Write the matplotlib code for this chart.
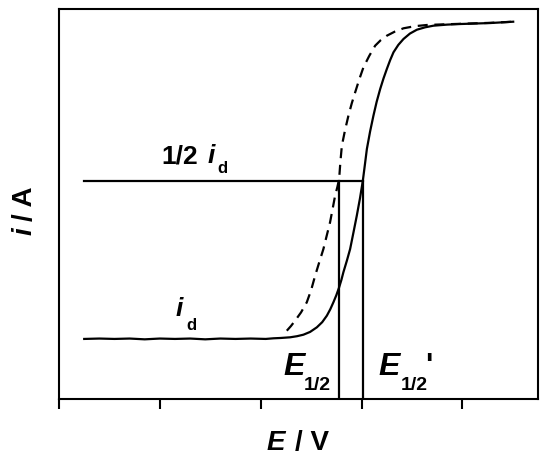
import matplotlib.pyplot as plt

plt.rcParams['font.family'] = ['Liberation Sans', 'DejaVu Sans']
plt.rcParams['font.weight'] = 'bold'

# solid wave
E_solid = [0.25, 0.40, 0.55, 0.70, 0.85, 1.00, 1.15, 1.30, 1.45, 1.60, 1.75, 1.90, 2.05,
           2.126, 2.20, 2.292, 2.36, 2.424, 2.49, 2.557, 2.61, 2.656, 2.69, 2.721, 2.75,
           2.778, 2.80, 2.820, 2.855, 2.887, 2.92, 2.953, 2.985, 3.013, 3.033, 3.053,
           3.085, 3.118, 3.15, 3.185, 3.218, 3.251, 3.284, 3.317, 3.365, 3.416, 3.48,
           3.549, 3.63, 3.713, 3.85, 3.98, 4.276, 4.504]
i_solid = [1.54, 1.55, 1.54, 1.55, 1.53, 1.55, 1.54, 1.55, 1.53, 1.55, 1.54, 1.55, 1.54,
           1.556, 1.565, 1.582, 1.61, 1.649, 1.72, 1.838, 1.97, 2.136, 2.30, 2.479, 2.66,
           2.864, 3.05, 3.249, 3.55, 3.846, 4.27, 4.700, 5.15, 5.597, 6.00, 6.410,
           6.86, 7.264, 7.62, 7.949, 8.22, 8.462, 8.69, 8.890, 9.08, 9.231, 9.37,
           9.469, 9.53, 9.572, 9.60, 9.615, 9.640, 9.674]

# dashed wave
E_dash = [2.259, 2.30, 2.341, 2.40, 2.457, 2.50, 2.540, 2.58, 2.622, 2.655, 2.688,
          2.713, 2.738, 2.76, 2.778, 2.79, 2.805, 2.837, 2.870, 2.903, 2.937, 2.978,
          3.019, 3.077, 3.135, 3.19, 3.251, 3.33, 3.416, 3.53, 3.648, 3.8, 3.98, 4.276, 4.504]
i_dash = [1.751, 1.87, 2.008, 2.22, 2.479, 2.79, 3.162, 3.50, 3.846, 4.19, 4.531,
          4.87, 5.213, 5.43, 5.641, 6.07, 6.495, 6.90, 7.264, 7.58, 7.864, 8.20,
          8.505, 8.80, 9.059, 9.20, 9.315, 9.42, 9.505, 9.56, 9.590, 9.605, 9.620, 9.645, 9.674]

half_i = 5.6
E_half = 2.778
E_half_p = 3.013
E_start = 0.25

xticks = [0, 1, 2, 3, 4]


def px(x, y):
    return x / 550, 1 - y / 460


def main():
    fig = plt.figure(figsize=(5.5, 4.6), dpi=100)
    ax = fig.add_axes([59/550, 60/460, 479/550, 390/460])

    ax.plot(E_solid, i_solid, color='black', lw=1.6)
    ax.plot(E_dash, i_dash, color='black', lw=1.6, dashes=(4.5, 3))

    ax.plot([E_start, E_half_p], [half_i, half_i], color='black', lw=1.6)
    ax.plot([E_half, E_half], [0, half_i], color='black', lw=1.6)
    ax.plot([E_half_p, E_half_p], [0, half_i], color='black', lw=1.6)

    ax.set_xlim(0, 4.75)
    ax.set_ylim(0, 10)
    ax.set_xticks(xticks)
    ax.set_xticklabels([])
    ax.set_yticks([])
    ax.tick_params(axis='x', direction='out', length=7, width=1.5)
    for s in ax.spines.values():
        s.set_linewidth(1.5)

    # annotations
    ax.text(1.019, 6.07, '1/2', fontsize=19, fontweight='bold')
    ax.text(1.47, 6.07, 'i', fontsize=19, fontweight='bold', style='italic')
    ax.text(1.575, 5.82, 'd', fontsize=12, fontweight='bold')

    ax.text(1.16, 2.154, 'i', fontsize=19, fontweight='bold', style='italic')
    ax.text(1.26, 1.795, 'd', fontsize=12, fontweight='bold')

    ax.text(2.222, 0.641, 'E', fontsize=23, fontweight='bold', style='italic')
    ax.text(2.43, 0.256, '1/2', fontsize=14, fontweight='bold')
    ax.text(3.165, 0.641, 'E', fontsize=23, fontweight='bold', style='italic')
    ax.text(3.39, 0.256, '1/2', fontsize=14, fontweight='bold')
    ax.text(3.63, 0.641, "'", fontsize=22, fontweight='bold')

    # axis labels
    x, y = px(267, 450)
    fig.text(x, y, 'E', fontsize=20, fontweight='bold', style='italic', va='baseline')
    x, y = px(295, 450)
    fig.text(x, y, '/ V', fontsize=20, fontweight='bold', va='baseline')

    x, y = px(32, 235)
    fig.text(x, y, 'i', fontsize=20, fontweight='bold', style='italic', rotation=90,
             rotation_mode='anchor', ha='left', va='baseline')
    x, y = px(32, 221)
    fig.text(x, y, '/ A', fontsize=20, fontweight='bold', rotation=90,
             rotation_mode='anchor', ha='left', va='baseline')

    fig.savefig('out.png', dpi=100)


if __name__ == '__main__':
    main()
